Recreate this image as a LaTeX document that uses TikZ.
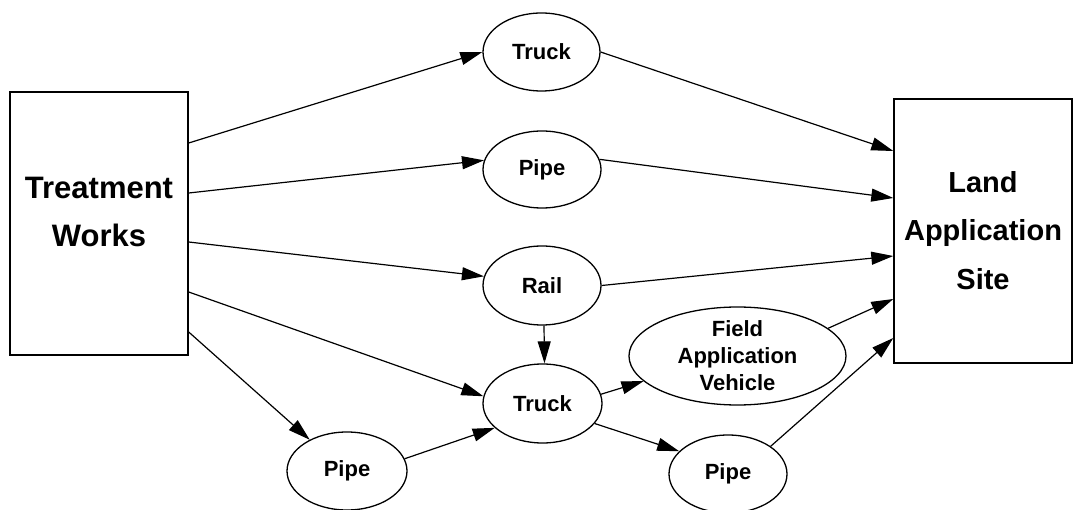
\documentclass[tikz,border=0pt]{standalone}
\usepackage{fontspec}
\setmainfont{Liberation Sans}
\usetikzlibrary{shapes.geometric,arrows.meta}
\begin{document}
\begin{tikzpicture}[x=1pt,y=-1pt,
  box/.style={draw, line width=1.4pt, rectangle, inner sep=0pt},
  ell/.style={draw, line width=1.3pt, ellipse, inner sep=-8pt, align=center,
              font=\fontsize{22}{27}\selectfont\bfseries},
  arr/.style={line width=1.2pt, -{Triangle[length=22pt,width=13pt]}}]
\useasboundingbox (0,0) rectangle (1073,510);
\node[box, minimum width=178pt, minimum height=263pt,
      font=\fontsize{31}{48}\selectfont\bfseries] (tw) at (99,223.5)
  {\begin{tabular}{@{}c@{}}Treatment\\Works\\[-26pt]\mbox{}\end{tabular}};
\node[box, minimum width=178pt, minimum height=264pt,
      font=\fontsize{29}{48.5}\selectfont\bfseries] (las) at (983,231)
  {\begin{tabular}{@{}c@{}}Land\\Application\\Site\end{tabular}};
\node[ell, minimum width=117pt, minimum height=78pt] (truck1) at (541.5,52) {Truck};
\node[ell, minimum width=118pt, minimum height=77pt] (pipe1) at (542,169.5) {Pipe};
\node[ell, minimum width=118pt, minimum height=79pt] (rail) at (542,285.5) {Rail};
\node[ell, minimum width=119pt, minimum height=79pt] (truck2) at (542.5,403.5) {Truck};
\node[ell, minimum width=217pt, minimum height=98pt] (fav) at (737.5,356) {Field\\Application\\Vehicle};
\node[ell, minimum width=120pt, minimum height=78pt] (pipel) at (347,471) {Pipe};
\node[ell, minimum width=118pt, minimum height=78pt] (piper) at (728,474) {Pipe};
\draw[arr] ([yshift=80.5pt]tw.east) -- (truck1.west);
\draw[arr] ([yshift=30.5pt]tw.east) -- (pipe1.171);
\draw[arr] ([yshift=-18.5pt]tw.east) -- (rail.171);
\draw[arr] ([yshift=-68.5pt]tw.east) -- (truck2.173);
\draw[arr] ([yshift=-108.5pt]tw.east) -- (pipel.140);
\draw[arr] (pipel.12) -- (truck2.207);
\draw[arr] ([xshift=2pt]rail.south) -- ([xshift=2pt]truck2.north);
\draw[arr] (truck2.9) -- (fav.195);
\draw[arr] (truck2.-21) -- (piper.155);
\draw[arr] (truck1.east) -- ([yshift=80pt]las.west);
\draw[arr] (pipe1.10) -- ([yshift=33pt]las.west);
\draw[arr] (rail.east) -- ([yshift=-25pt]las.west);
\draw[arr] (fav.17) -- ([yshift=-68pt]las.west);
\draw[arr] (piper.33) -- ([yshift=-107pt]las.west);
\end{tikzpicture}
\end{document}
